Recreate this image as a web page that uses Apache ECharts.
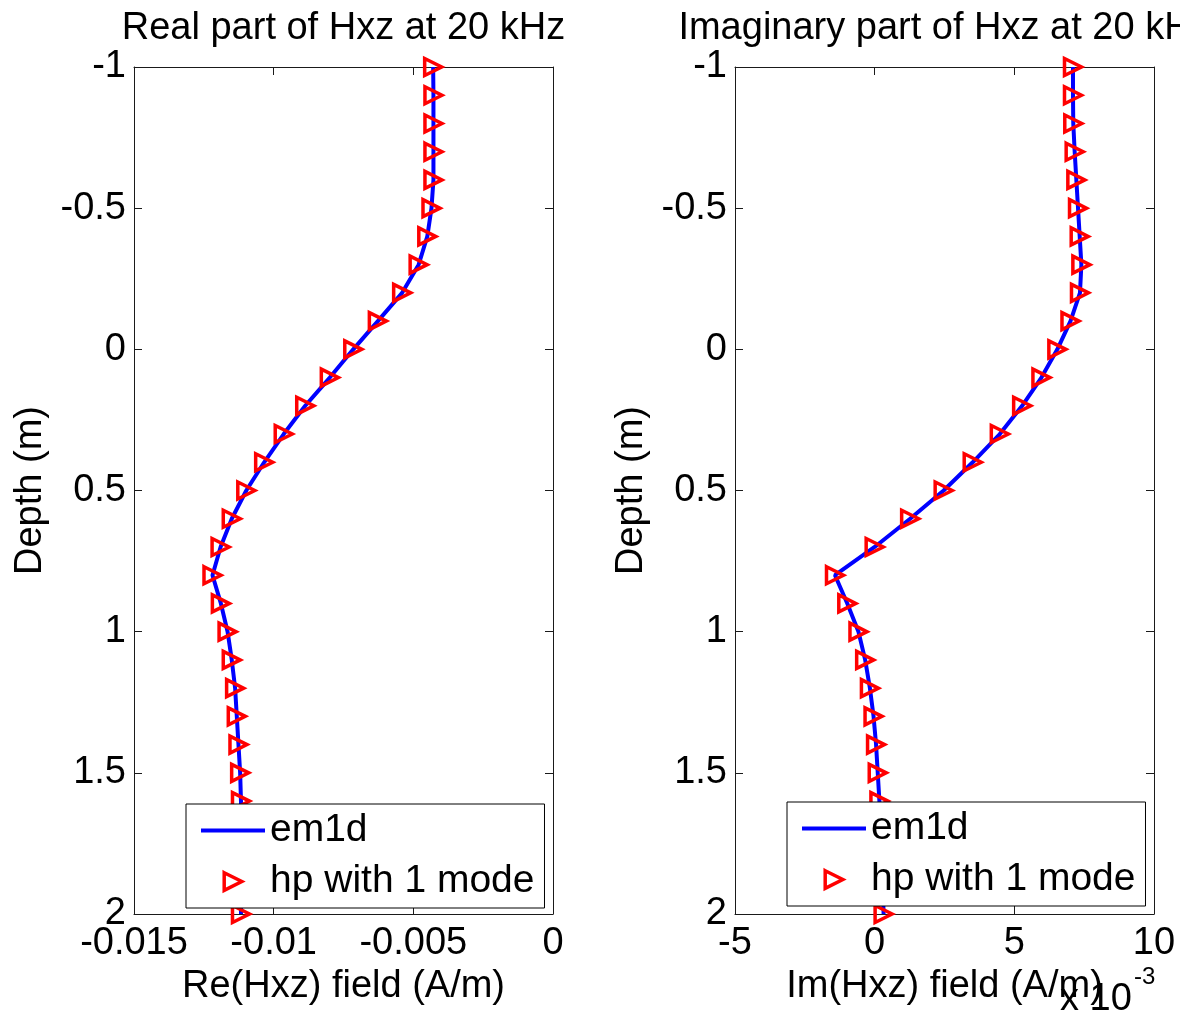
<!DOCTYPE html>
<html>
<head>
<meta charset="utf-8">
<script src="https://cdn.jsdelivr.net/npm/echarts@6/dist/echarts.min.js"></script>
<style>
html,body{margin:0;padding:0;background:#fff;}
#main{width:1180px;height:1013px;}
</style>
</head>
<body>
<div id="main"></div>
<script>
// Depth samples (m)
const depth = [-1, -0.9, -0.8, -0.7, -0.6, -0.5, -0.4, -0.3, -0.2, -0.1,
  0, 0.1, 0.2, 0.3, 0.4, 0.5, 0.6, 0.7, 0.8, 0.9,
  1.0, 1.1, 1.2, 1.3, 1.4, 1.5, 1.6, 1.7, 1.8, 1.9, 2.0];
// Re(Hxz) (A/m)
const reHxz = [-0.00429, -0.00428, -0.00428, -0.00428, -0.00428, -0.00435, -0.0045, -0.00481, -0.0054, -0.00627,
  -0.00715, -0.00799, -0.00887, -0.00964, -0.01034, -0.01098, -0.0115, -0.0119, -0.01219, -0.01189,
  -0.01165, -0.0115, -0.01138, -0.01132, -0.01126, -0.0112, -0.01117, -0.01116, -0.01115, -0.01115, -0.01117];
// Im(Hxz) in units of 1e-3 A/m
const imHxzE3 = [7.1, 7.1, 7.11, 7.16, 7.22, 7.28, 7.34, 7.4, 7.35, 7.01,
  6.54, 5.97, 5.28, 4.48, 3.51, 2.47, 1.27, 0.0, -1.42, -0.98,
  -0.58, -0.34, -0.17, -0.04, 0.05, 0.11, 0.17, 0.21, 0.25, 0.29, 0.32];

const titles = ['Real part of Hxz at 20 kHz', 'Imaginary part of Hxz at 20 kHz'];
const xNames = ['Re(Hxz) field (A/m)', 'Im(Hxz) field (A/m)'];
const yName = 'Depth (m)';
const seriesNames = ['em1d', 'hp with 1 mode'];
const xRanges = [[-0.015, 0, 0.005], [-5, 10, 5]];
const yRange = [-1, 2, 0.5];
const exponentText = ['x 10', '-3'];

const F = 'Liberation Sans, Arial, sans-serif';
const FS = 38;
const AX = '#1a1a1a';
const BLUE = '#0000FF';
const RED = '#FF0000';
const TRI = 'path://M0,0 L10,5 L0,10 Z';

const grids = [
  {left: 134, top: 67, width: 419, height: 847},
  {left: 735, top: 67, width: 419, height: 847}
];

function baseAxis() {
  return {
    axisLine: {show: true, onZero: false, lineStyle: {color: AX, width: 1}},
    axisTick: {show: true, inside: true, length: 8, lineStyle: {color: AX, width: 1}},
    splitLine: {show: false},
    axisLabel: {color: '#000', fontSize: FS, fontFamily: F},
    nameTextStyle: {color: '#000', fontSize: FS, fontFamily: F}
  };
}

const xAxis = [], yAxis = [], series = [], title = [], legend = [];
[0, 1].forEach(function (g) {
  const xr = xRanges[g];
  xAxis.push(Object.assign(baseAxis(), {
    type: 'value', gridIndex: g, position: 'bottom', min: xr[0], max: xr[1], interval: xr[2],
    name: xNames[g], nameLocation: 'middle', nameGap: 50,
    axisLabel: {color: '#000', fontSize: FS, fontFamily: F, margin: 11}
  }));
  xAxis.push(Object.assign(baseAxis(), {
    type: 'value', gridIndex: g, position: 'top', min: xr[0], max: xr[1], interval: xr[2],
    axisLabel: {show: false}
  }));
  yAxis.push(Object.assign(baseAxis(), {
    type: 'value', gridIndex: g, position: 'left', inverse: true,
    min: yRange[0], max: yRange[1], interval: yRange[2],
    name: yName, nameLocation: 'middle', nameGap: 84, nameRotate: 90,
    axisLabel: {color: '#000', fontSize: FS, fontFamily: F, margin: 8}
  }));
  yAxis.push(Object.assign(baseAxis(), {
    type: 'value', gridIndex: g, position: 'right', inverse: true,
    min: yRange[0], max: yRange[1], interval: yRange[2],
    axisLabel: {show: false}
  }));
  const vals = g === 0 ? reHxz : imHxzE3;
  const data = depth.map(function (d, i) { return [vals[i], d]; });
  series.push({
    name: seriesNames[0], type: 'line', xAxisIndex: g * 2, yAxisIndex: g * 2,
    data: data, symbol: 'none', clip: false, color: BLUE,
    lineStyle: {color: BLUE, width: 4}, itemStyle: {color: BLUE}, z: 2
  });
  series.push({
    name: seriesNames[1], type: 'line', xAxisIndex: g * 2, yAxisIndex: g * 2,
    data: data, symbol: TRI, symbolSize: 17, showSymbol: true, clip: false, color: RED,
    lineStyle: {width: 0, opacity: 0},
    itemStyle: {color: 'rgba(255,255,255,0)', borderColor: RED, borderWidth: 3.5}, z: 3
  });
  const cx = grids[g].left + grids[g].width / 2;
  title.push({
    text: titles[g], left: cx, top: 10, textAlign: 'center', padding: 0,
    textStyle: {color: '#000', fontSize: FS, fontWeight: 'normal', fontFamily: F}
  });
  legend.push({
    orient: 'vertical', left: g === 0 ? 186 : 787, top: g === 0 ? 804 : 802,
    padding: [7, 10, 7, 13], itemGap: 12, itemWidth: 64, itemHeight: 22,
    backgroundColor: '#fff', borderColor: '#000', borderWidth: 1, borderRadius: 0,
    textStyle: {color: '#000', fontSize: 39, fontFamily: F},
    selectedMode: false,
    data: [
      {name: seriesNames[0], itemStyle: {opacity: 0}, lineStyle: {width: 4, color: BLUE}},
      {name: seriesNames[1], itemStyle: {borderWidth: 3.5, borderColor: RED}, lineStyle: {opacity: 0, width: 0}}
    ]
  });
});

const chart = echarts.init(document.getElementById('main'), null, {renderer: 'canvas'});
chart.setOption({
  animation: false,
  backgroundColor: '#fff',
  title: title,
  legend: legend,
  grid: grids,
  xAxis: xAxis,
  yAxis: yAxis,
  series: series,
  graphic: [
    {type: 'text', left: 1060, top: 981, style: {text: exponentText[0], font: FS + 'px ' + F, fill: '#000'}},
    {type: 'text', left: 1134, top: 965, style: {text: exponentText[1], font: '24px ' + F, fill: '#000'}}
  ]
});
</script>
</body>
</html>
